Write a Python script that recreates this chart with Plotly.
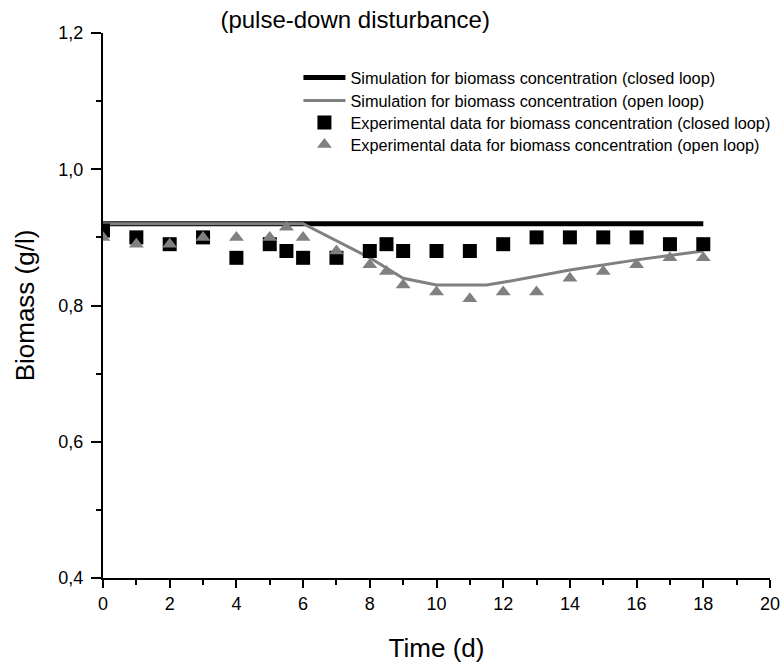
import plotly.graph_objects as go

# Simulated biomass concentration (g/l)
sim_closed_t = [0, 18]
sim_closed_x = [0.92, 0.92]

sim_open_t = [0, 6, 8, 9, 10, 11.5, 12, 14, 16, 18]
sim_open_x = [0.92, 0.92, 0.87, 0.84, 0.83, 0.83, 0.834, 0.852, 0.867, 0.88]

# Experimental biomass concentration (g/l)
exp_closed_t = [0, 1, 2, 3, 4, 5, 5.5, 6, 7, 8, 8.5, 9, 10, 11, 12, 13, 14, 15, 16, 17, 18]
exp_closed_x = [0.91, 0.90, 0.89, 0.90, 0.87, 0.89, 0.88, 0.87, 0.87, 0.88, 0.89, 0.88,
                0.88, 0.88, 0.89, 0.90, 0.90, 0.90, 0.90, 0.89, 0.89]

exp_open_t = [0, 1, 2, 3, 4, 5, 5.5, 6, 7, 8, 8.5, 9, 10, 11, 12, 13, 14, 15, 16, 17, 18]
exp_open_x = [0.90, 0.89, 0.89, 0.90, 0.90, 0.90, 0.915, 0.90, 0.88, 0.86, 0.85, 0.83,
              0.82, 0.81, 0.82, 0.82, 0.84, 0.85, 0.86, 0.87, 0.87]

GRAY = "#808080"
FONT = "Liberation Sans, Arial, sans-serif"

fig = go.Figure()
fig.add_trace(go.Scatter(
    x=sim_closed_t, y=sim_closed_x, mode="lines",
    line=dict(color="black", width=5), legend="legend",
    name="Simulation for biomass concentration (closed loop)"))
fig.add_trace(go.Scatter(
    x=sim_open_t, y=sim_open_x, mode="lines",
    line=dict(color=GRAY, width=3), legend="legend2",
    name="Simulation for biomass concentration (open loop)"))
fig.add_trace(go.Scatter(
    x=exp_closed_t, y=exp_closed_x, mode="markers",
    marker=dict(symbol="square", color="black", size=14, line=dict(width=0)),
    legend="legend3",
    name="Experimental data for biomass concentration (closed loop)"))
fig.add_trace(go.Scatter(
    x=exp_open_t, y=exp_open_x, mode="markers",
    marker=dict(symbol="triangle-up", color=GRAY, size=13, line=dict(width=0)),
    legend="legend4",
    name="Experimental data for biomass concentration (open loop)"))

axis_common = dict(
    showline=True, linecolor="black", linewidth=2,
    tickwidth=2, tickcolor="black", ticks="outside",
    showgrid=False, zeroline=False, mirror=False, automargin=False,
    tickfont=dict(family=FONT, size=18, color="black"),
)


def legend_row(y):
    # one legend entry per row, stacked with a fixed row pitch
    return dict(x=0.293, y=y, xanchor="left", yanchor="middle",
                bgcolor="rgba(0,0,0,0)", itemwidth=42,
                font=dict(family=FONT, size=16.3, color="black"))


fig.update_layout(
    width=784, height=666,
    margin=dict(l=103, r=14, t=33, b=88, autoexpand=False),
    paper_bgcolor="white", plot_bgcolor="white",
    separators=",.",
    font=dict(family=FONT, color="black"),
    title=dict(text="(pulse-down disturbance)", x=0.453, xanchor="center",
               y=0.970, yanchor="middle", automargin=False,
               font=dict(family=FONT, size=24, color="black")),
    xaxis=dict(range=[0, 20], tickvals=list(range(0, 21, 2)), ticklen=8,
               minor=dict(ticks="outside", ticklen=5, tickwidth=2, tickcolor="black", dtick=1),
               title=dict(text="Time (d)", font=dict(family=FONT, size=26, color="black"),
                          standoff=26),
               **axis_common),
    yaxis=dict(range=[0.4, 1.2], tickvals=[0.4, 0.6, 0.8, 1.0, 1.2], tickformat=".1f",
               ticklen=10, ticklabelstandoff=4,
               minor=dict(ticks="outside", ticklen=5, tickwidth=2, tickcolor="black", dtick=0.1),
               title=dict(text="Biomass (g/l)", font=dict(family=FONT, size=26, color="black"),
                          standoff=16),
               **axis_common),
    showlegend=True,
    legend=legend_row(0.9174),
    legend2=legend_row(0.8752),
    legend3=legend_row(0.8349),
    legend4=legend_row(0.7945),
)

fig.write_html("out.html")
